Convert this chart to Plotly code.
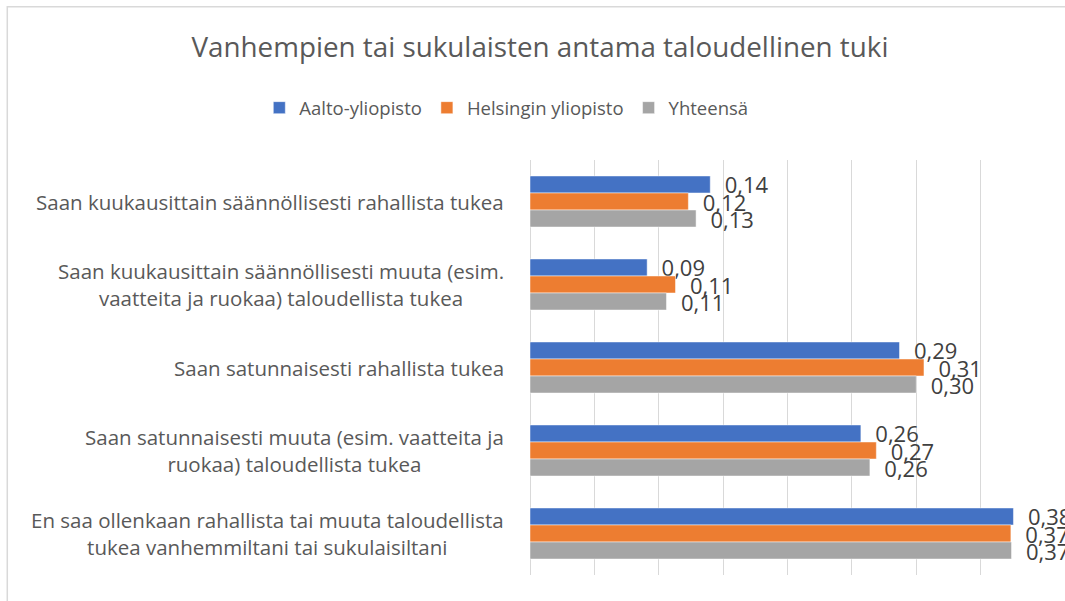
import plotly.graph_objects as go

categories = [
    "Saan kuukausittain säännöllisesti rahallista tukea",
    "Saan kuukausittain säännöllisesti muuta (esim.<br>vaatteita ja ruokaa) taloudellista tukea",
    "Saan satunnaisesti rahallista tukea",
    "Saan satunnaisesti muuta (esim. vaatteita ja<br>ruokaa) taloudellista tukea",
    "En saa ollenkaan rahallista tai muuta taloudellista<br>tukea vanhemmiltani tai sukulaisiltani",
]
series_names = ["Aalto-yliopisto", "Helsingin yliopisto", "Yhteensä"]
aalto = [0.140, 0.091, 0.287, 0.257, 0.3755]
helsinki = [0.123, 0.113, 0.306, 0.269, 0.3735]
yhteensa = [0.129, 0.106, 0.300, 0.264, 0.374]
colors = ["#4472C4", "#ED7D31", "#A5A5A5"]
x_ticks = [0, 0.05, 0.10, 0.15, 0.20, 0.25, 0.30, 0.35, 0.40]

FONT = "Open Sans"
fig = go.Figure()
for name, vals, col in zip(series_names, [aalto, helsinki, yhteensa], colors):
    fig.add_trace(go.Bar(
        y=categories, x=vals, name=name, orientation="h",
        marker=dict(color=col, line=dict(color="rgba(255,255,255,0.6)", width=0.8)),
        texttemplate="\u00a0\u00a0%{x:.2f}", textposition="outside",
        textfont=dict(family=FONT, size=22, color="#404040"),
        cliponaxis=False, constraintext="none",
    ))

for c in categories:
    fig.add_annotation(
        xref="paper", yref="y", x=0, y=c, xshift=-24, xanchor="right",
        text=c, align="center", showarrow=False,
        font=dict(family=FONT, size=20.5, color="#595959"),
    )

fig.add_shape(type="rect", xref="paper", yref="paper",
              x0=-1.015, x1=1.2, y0=-0.2, y1=1.369,
              line=dict(color="#D9D9D9", width=1.5), fillcolor="rgba(0,0,0,0)", layer="below")

fig.update_layout(
    width=1065, height=601,
    margin=dict(l=530, r=20, t=160, b=26),
    paper_bgcolor="white", plot_bgcolor="white",
    separators=", ",
    barmode="group", bargap=0.385, bargroupgap=0,
    title=dict(text="Vanhempien tai sukulaisten antama taloudellinen tuki",
               x=0.507, xanchor="center", y=1 - 47 / 601, yanchor="middle",
               font=dict(family=FONT, size=27.8, color="#595959")),
    legend=dict(orientation="h", x=-0.046, xanchor="center", y=1.125, yanchor="middle",
                font=dict(family=FONT, size=18.5, color="#595959"), traceorder="normal",
                itemwidth=30),
    xaxis=dict(range=[0, 0.4], tickvals=x_ticks, showticklabels=False, showgrid=True,
               gridcolor="#D9D9D9", gridwidth=1, zeroline=True, zerolinecolor="#D9D9D9",
               zerolinewidth=1, showline=False, fixedrange=True),
    yaxis=dict(autorange="reversed", showticklabels=False, showgrid=False, showline=False,
               ticks="", fixedrange=True),
    showlegend=True,
)

fig.write_html("out.html", config={"displayModeBar": False},
               post_script="document.body.style.margin='0';document.body.style.overflow='hidden';")
